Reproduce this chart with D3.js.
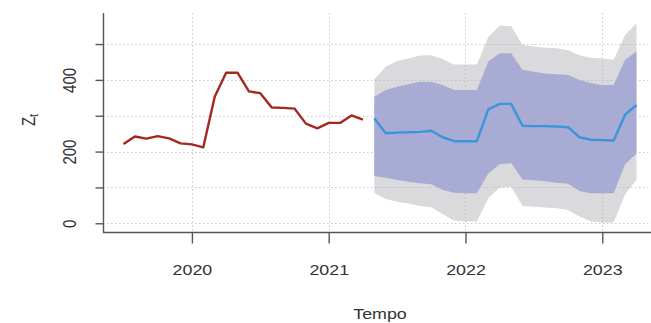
<!DOCTYPE html>
<html><head><meta charset="utf-8">
<script src="https://cdn.jsdelivr.net/npm/d3@7"></script>
<style>body{margin:0;background:#fff}text{font-family:"Liberation Sans",Arial,sans-serif}</style>
</head><body><svg id="c" width="651" height="323"></svg>
<script>
// monthly series (ts frequency 12)
const freq = 12;
const obsStart = 2019 + 6/12;   // Jul 2019
const fcStart = 2021 + 4/12;    // May 2021
const observed = [221,242,236,243,237,223,220,212,353,420,420,368,363,323,322,320,278,265,280,280,301,289];
const fcMean = [293,251,253,254,255,258,240,229,229,229,318,333,333,272,271,271,270,268,240,233,232,231,303,330];
const fcHi80 = [353,372,381,388,395,395,386,372,372,372,451,474,474,428,423,418,416,414,400,391,386,386,456,479];
const fcLo80 = [132,127,121,116,112,109,93,85,84,84,139,165,168,122,120,117,113,110,90,84,84,84,165,195];
const fcHi95 = [402,437,453,460,468,469,458,443,443,443,520,551,550,497,493,490,488,483,469,462,460,456,525,558];
const fcLo95 = [85,68,60,55,48,45,25,8,5,5,70,100,102,48,46,44,42,37,19,5,2,2,80,122];
const xTicks = [2020,2021,2022,2023];
const yTicks = [0,100,200,300,400,500];
const yTickLabels = [0,200,400];

const svg = d3.select("#c");
const W = 651, H = 323;
const sx = 1.19; // horizontal stretch of the original picture's text
svg.append("rect").attr("width",W).attr("height",H).attr("fill","#fff");

const x = d3.scaleLinear().domain([2019.35, 2023.4]).range([103, 657]);
const y = d3.scaleLinear().domain([-24.3, 586.6]).range([232, 13]);

const obs = observed.map((v,i)=>({t: obsStart + i/freq, v}));
const fc = fcMean.map((v,i)=>({t: fcStart + i/freq, m: v, lo80: fcLo80[i], hi80: fcHi80[i], lo95: fcLo95[i], hi95: fcHi95[i]}));

// bands
svg.append("path").datum(fc)
  .attr("d", d3.area().x(d=>x(d.t)).y0(d=>y(d.lo95)).y1(d=>y(d.hi95)))
  .attr("fill","#dadadd");
svg.append("path").datum(fc)
  .attr("d", d3.area().x(d=>x(d.t)).y0(d=>y(d.lo80)).y1(d=>y(d.hi80)))
  .attr("fill","#a8abd4");

// grid
const grid = svg.append("g").attr("stroke","#b4b4b4").attr("stroke-opacity",0.7)
  .attr("stroke-width",1).attr("stroke-dasharray","1.5,2.5");
grid.selectAll(".gx").data(xTicks).join("line")
  .attr("x1",d=>Math.round(x(d))+0.5).attr("x2",d=>Math.round(x(d))+0.5)
  .attr("y1",13).attr("y2",232);
grid.selectAll(".gy").data(yTicks).join("line")
  .attr("y1",d=>Math.round(y(d))+0.5).attr("y2",d=>Math.round(y(d))+0.5)
  .attr("x1",103).attr("x2",657);

// lines
svg.append("path").datum(obs)
  .attr("d", d3.line().x(d=>x(d.t)).y(d=>y(d.v)))
  .attr("fill","none").attr("stroke","#a3291f").attr("stroke-width",2.4)
  .attr("stroke-linejoin","round");
svg.append("path").datum(fc)
  .attr("d", d3.line().x(d=>x(d.t)).y(d=>y(d.m)))
  .attr("fill","none").attr("stroke","#3a95dc").attr("stroke-width",2.4)
  .attr("stroke-linejoin","round");

// axes (box L-shape)
const axCol = "#555";
svg.append("line").attr("x1",103.5).attr("x2",103.5).attr("y1",13).attr("y2",232.5)
  .attr("stroke",axCol).attr("stroke-width",1.4);
svg.append("line").attr("x1",103).attr("x2",657).attr("y1",232.5).attr("y2",232.5)
  .attr("stroke",axCol).attr("stroke-width",1.4);

const yAxis = d3.axisLeft(y).tickValues(yTicks).tickSize(8)
  .tickFormat(d => yTickLabels.includes(d) ? d : "");
const gy = svg.append("g").attr("transform","translate(103.5,0)").call(yAxis);
gy.select(".domain").remove();
gy.selectAll(".tick line").attr("stroke",axCol).attr("stroke-width",1.4);
gy.selectAll(".tick text")
  .attr("fill","#333").attr("font-size",15)
  .attr("text-anchor","middle").attr("dy",null).attr("x",null)
  .attr("dominant-baseline","central")
  .attr("transform",`translate(-34,0) scale(${sx},1) rotate(-90)`);

const xAxis = d3.axisBottom(x).tickValues(xTicks).tickSize(11).tickFormat(d3.format("d"));
const gx = svg.append("g").attr("transform","translate(0,232.5)").call(xAxis);
gx.select(".domain").remove();
gx.selectAll(".tick line").attr("stroke",axCol).attr("stroke-width",1.4);
gx.selectAll(".tick text").attr("fill","#333").attr("font-size",15)
  .attr("y",null).attr("dy",null).attr("dominant-baseline","central")
  .attr("transform",`translate(0,37) scale(${sx},1)`);

// axis titles
svg.append("text").attr("transform",`translate(380,314) scale(${sx},1)`).attr("text-anchor","middle")
  .attr("dominant-baseline","central").attr("font-size",15).attr("fill","#333").text("Tempo");
const yl = svg.append("text").attr("transform",`translate(29,120) scale(${sx},1) rotate(-90)`)
  .attr("text-anchor","middle").attr("dominant-baseline","central")
  .attr("font-size",15).attr("fill","#333");
yl.append("tspan").text("Z");
yl.append("tspan").attr("font-size",11).attr("dy",4).text("t");
</script></body></html>
